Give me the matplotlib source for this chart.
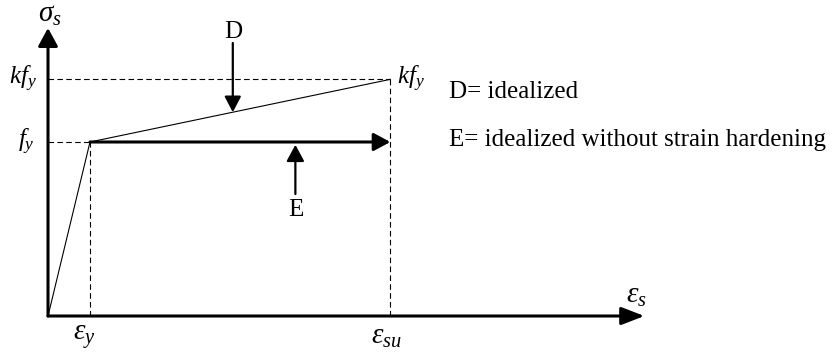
import matplotlib
matplotlib.use("Agg")
import matplotlib.pyplot as plt
from matplotlib.patches import FancyArrowPatch

# idealized steel stress-strain model (normalized units)
eps_y = 1.0        # yield strain
eps_su = 8.15      # ultimate strain
f_y = 1.0          # yield stress
k = 1.36           # hardening ratio, kf_y at eps_su
eps_axis_end = 14.2
sig_axis_end = 1.655

eps_D = 4.40       # where the D pointer hits the hardening branch
eps_E = 5.89       # where the E pointer sits under the plateau

legend_lines = ["D= idealized", "E= idealized without strain hardening"]

plt.rcParams["font.family"] = "Liberation Serif"
plt.rcParams["mathtext.fontset"] = "custom"
plt.rcParams["mathtext.rm"] = "Liberation Serif"
plt.rcParams["mathtext.it"] = "Liberation Serif:italic"

fig = plt.figure(figsize=(8.32, 3.53), dpi=100)
ax = fig.add_axes([0, 0, 1, 1])
ax.set_xlim(-1.143, 18.667)
ax.set_ylim(-0.2126, 1.816)
ax.axis("off")


def arrow(p0, p1, lw, hl, hw, shrink_b=0):
    a = FancyArrowPatch(p0, p1, arrowstyle=f"-|>,head_length={hl},head_width={hw}",
                        mutation_scale=1, lw=lw, color="k",
                        shrinkA=0, shrinkB=shrink_b)
    ax.add_patch(a)


# coordinate axes
arrow((0, 0), (eps_axis_end, 0), 2.2, 14, 5.4)
arrow((0, 0), (0, sig_axis_end), 2.2, 11, 6)

# reference dashed lines
dash = dict(color="k", lw=0.8, ls=(0, (5, 3)))
ax.plot([0, eps_su], [k * f_y, k * f_y], **dash)
ax.plot([0, eps_y], [f_y, f_y], **dash)
ax.plot([eps_y, eps_y], [0, f_y], **dash)
ax.plot([eps_su, eps_su], [0, k * f_y], **dash)

# elastic branch and strain hardening branch (D)
ax.plot([0, eps_y], [0, f_y], color="k", lw=0.8)
ax.plot([eps_y, eps_su], [f_y, k * f_y], color="k", lw=0.8)

# plastic plateau without hardening (E)
arrow((eps_y, f_y), (eps_su, f_y), 2.2, 10, 5.4)

# pointers D and E
sig_D = f_y + (k - 1) * f_y * (eps_D - eps_y) / (eps_su - eps_y)
arrow((eps_D, 1.569), (eps_D, sig_D), 1.6, 9.5, 5)
arrow((eps_E, 0.701), (eps_E, f_y), 1.6, 10, 5.4, shrink_b=2)

fs = 18
fs_greek = 21
ax.text(eps_D, 1.632, "D", fontsize=fs, ha="center", va="center")
ax.text(eps_E, 0.609, "E", fontsize=fs, ha="center", va="center")

# axis and tick labels
ax.text(0.05, 1.73, r"$\sigma_s$", fontsize=fs_greek, ha="center", va="center")
ax.text(14.0, 0.115, r"$\varepsilon_s$", fontsize=fs_greek, ha="center", va="center")
ax.text(-0.26, k * f_y, r"$kf_y$", fontsize=fs, ha="right", va="center")
ax.text(-0.31, f_y, r"$f_y$", fontsize=fs, ha="right", va="center")
ax.text(eps_su + 0.16, k * f_y, r"$kf_y$", fontsize=fs, ha="left", va="center")
ax.text(0.86, -0.12, r"$\varepsilon_y$", fontsize=fs_greek, ha="center", va="center")
ax.text(eps_su - 0.1, -0.12, r"$\varepsilon_{su}$", fontsize=fs_greek, ha="center", va="center")

# legend text
ax.text(9.55, 1.287, legend_lines[0], fontsize=fs, ha="left", va="center")
ax.text(9.55, 1.011, legend_lines[1], fontsize=fs, ha="left", va="center")

fig.savefig("out.png", dpi=100)
